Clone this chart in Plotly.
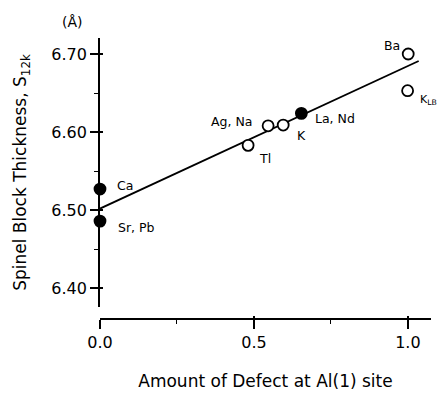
import plotly.graph_objects as go

# data
labels = ["Ca", "Sr, Pb", "Tl", "Ag, Na", "K", "La, Nd", "Ba", "K<sub>LB</sub>"]
defect = [0.0, 0.0, 0.481, 0.546, 0.595, 0.654, 1.001, 0.999]
thickness = [6.527, 6.486, 6.583, 6.608, 6.609, 6.624, 6.700, 6.653]
filled = [True, True, False, False, False, True, False, False]
fit_x = [0.0, 1.035]
fit_y = [6.502, 6.691]
y_ticks = [6.40, 6.50, 6.60, 6.70]
x_ticks = [0.0, 0.5, 1.0]

# label placement (pixel offsets)
lab_pos = {
    "Ca": ("left", 15, 4),
    "Sr, Pb": ("left", 16, -6),
    "Tl": ("left", 9, -13),
    "Ag, Na": ("right", -14, 4),
    "K": ("left", 12, -10),
    "La, Nd": ("left", 12, -5),
    "Ba": ("right", -6, 9),
    "K<sub>LB</sub>": ("left", 10, -9),
}

FONT = "DejaVu Sans"
W, H = 438, 393
ML, MR, MT, MB = 100, 7, 38, 74
fig = go.Figure()

fig.add_trace(go.Scatter(x=fit_x, y=fit_y, mode="lines",
                         line=dict(color="black", width=1.8),
                         showlegend=False, hoverinfo="skip"))

fig.add_trace(go.Scatter(
    x=defect, y=thickness, mode="markers", cliponaxis=False,
    marker=dict(size=11, symbol="circle",
                color=["black" if f else "white" for f in filled],
                line=dict(color="black", width=1.8)),
    showlegend=False))

annotations = []
for lab, xv, yv in zip(labels, defect, thickness):
    anc, dx, dy = lab_pos[lab]
    annotations.append(dict(x=xv, y=yv, xref="x", yref="y", text=lab,
                            showarrow=False, xanchor=anc, yanchor="middle",
                            xshift=dx, yshift=dy,
                            font=dict(family=FONT, size=12.5 if "LB" not in lab else 11,
                                      color="black")))
pw, ph = W - ML - MR, H - MT - MB
annotations.append(dict(x=(72 - ML) / pw, y=(H - MB - 22) / ph,
                        xref="paper", yref="paper", text="(Å)", showarrow=False,
                        xanchor="center", yanchor="middle",
                        font=dict(family=FONT, size=14, color="black")))

ydom0 = 12 / ph
yr = [6.376, 6.7205]
xr = [0.0, 1.075]

fig.update_layout(
    width=W, height=H,
    margin=dict(l=ML, r=MR, t=MT, b=MB, autoexpand=False),
    paper_bgcolor="white", plot_bgcolor="white",
    font=dict(family=FONT, size=16, color="black"),
    annotations=annotations,
    xaxis=dict(range=xr, anchor="free", position=0, showline=True, linecolor="black",
               linewidth=1.5, showgrid=False, zeroline=False, automargin=False,
               tickvals=x_ticks, tickformat=".1f", ticks="outside", ticklen=9,
               tickwidth=1.5, tickcolor="black", tickfont=dict(size=16),
               minor=dict(dtick=0.25, ticks="outside", ticklen=4, tickwidth=1.2, tickcolor="black"),
               title=dict(text="Amount of Defect at Al(1) site", standoff=23,
                          font=dict(size=17))),
    yaxis=dict(range=yr, domain=[ydom0, 1], anchor="x", showline=True, linecolor="black",
               linewidth=1.8, showgrid=False, zeroline=False, automargin=False,
               tickvals=y_ticks, tickformat=".2f", ticks="outside", ticklen=8,
               tickwidth=1.5, tickcolor="black", tickfont=dict(size=16),
               minor=dict(dtick=0.05, ticks="outside", ticklen=4, tickwidth=1.2, tickcolor="black"),
               title=dict(text="Spinel Block Thickness, S<sub>12k</sub>", standoff=20,
                          font=dict(size=17))),
    xaxis2=dict(range=xr, overlaying="x", anchor="free", position=0, showline=False,
                showgrid=False, zeroline=False, tickvals=x_ticks, showticklabels=False,
                automargin=False,
                ticks="inside", ticklen=3, tickwidth=1.5, tickcolor="black"),
    yaxis2=dict(range=yr, domain=[ydom0, 1], overlaying="y", anchor="x", showline=False,
                showgrid=False, zeroline=False, tickvals=y_ticks, showticklabels=False,
                automargin=False,
                ticks="inside", ticklen=3, tickwidth=1.5, tickcolor="black"),
)
# invisible trace to activate overlay axes
fig.add_trace(go.Scatter(x=[0.5], y=[6.5], xaxis="x2", yaxis="y2", mode="markers",
                         marker=dict(opacity=0), showlegend=False, hoverinfo="skip"))

fig.write_html("out.html", config={"displayModeBar": False},
               post_script="document.body.style.margin='0px';document.body.style.overflow='hidden';")
